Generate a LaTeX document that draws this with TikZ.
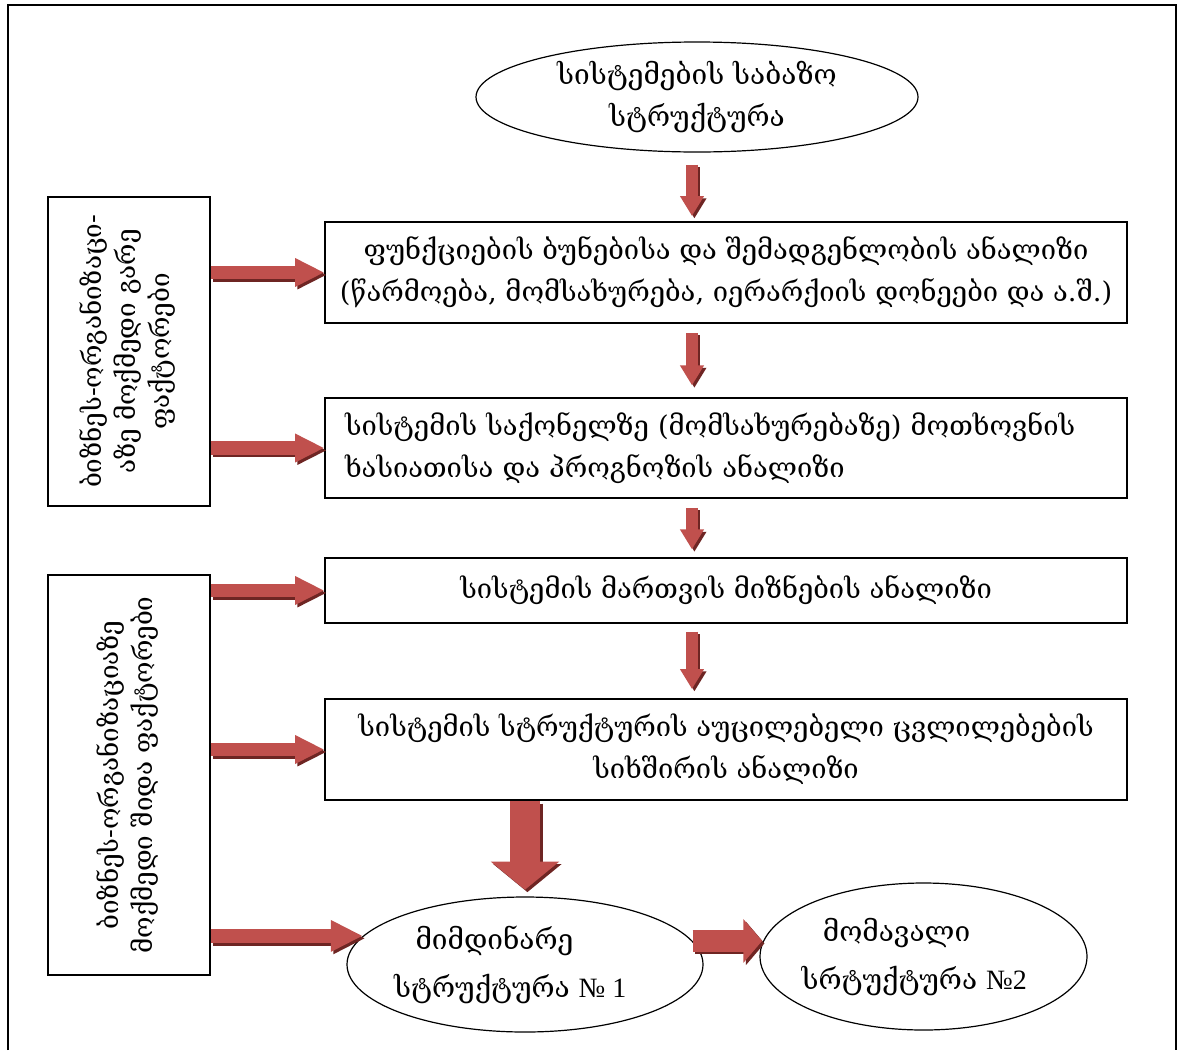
\documentclass[tikz,border=0pt]{standalone}
\usepackage{fontspec}
\setmainfont{DejaVu Serif}
\newfontfamily\tnr{Liberation Serif}
\usetikzlibrary{shapes.geometric,arrows.meta,calc}
\definecolor{arrowred}{HTML}{C0504D}
\definecolor{arrowdark}{HTML}{6E2523}
\newcommand\fs{\fontsize{20.5}{31.5}\selectfont}
\newcommand\fsl{\fontsize{19.5}{25.5}\selectfont}
\newcommand\fse{\fontsize{21}{32}\selectfont}
\newcommand\redarrow[6]{%
  \draw[transform canvas={shift={(1.8pt,-1.8pt)}}, line width=#3, draw=arrowdark, -{Triangle[width=#4,length=#5]}, #6] (#1) -- (#2);
  \draw[line width=#3, draw=arrowred, -{Triangle[width=#4,length=#5]}, #6] (#1) -- (#2);
}
\tikzset{
  box/.style={draw, line width=0.9pt, rectangle, minimum width=601.5pt, inner sep=0pt, align=center, font=\fs},
  sidebox/.style={draw, line width=0.9pt, rectangle, minimum width=121.5pt, inner sep=0pt, align=center, font=\fsl},
  oval/.style={draw, line width=0.9pt, ellipse, inner sep=0pt, align=center, font=\fse},
}
\begin{document}
\begin{tikzpicture}[x=0.75pt,y=-0.75pt]
\useasboundingbox (0,0) rectangle (1184,1050);
\fill[white] (0,0) rectangle (1184,1050);
\draw[line width=0.9pt] (8,1050) -- (8,5) -- (1176,5) -- (1176,1050);

\node[oval, minimum width=331.5pt, minimum height=82.5pt] (E0) at (697,97) {სისტემების საბაზო\\სტრუქტურა};
\node[box, minimum height=75.75pt] (B1) at (726,272.5) {ფუნქციების ბუნებისა და შემადგენლობის ანალიზი\\(წარმოება, მომსახურება, იერარქიის დონეები და ა.შ.)};
\node[box, minimum height=75pt, align=left, text width=571.5pt] (B2) at (726,448) {სისტემის საქონელზე (მომსახურებაზე) მოთხოვნის\\ხასიათისა და პროგნოზის ანალიზი};
\node[box, minimum height=48.75pt] (B3) at (726,590.5) {სისტემის მართვის მიზნების ანალიზი};
\node[box, minimum height=75.75pt] (B4) at (726,749.5) {სისტემის სტრუქტურის აუცილებელი ცვლილებების\\სიხშირის ანალიზი};
\node[sidebox, minimum height=231.75pt] (L1) at (129,351.5) {\rotatebox{90}{\begin{tabular}{@{}c@{}}ბიზნეს-ორგანიზაცი-\\აზე მოქმედი გარე\\ფაქტორები\end{tabular}}};
\node[sidebox, minimum height=300pt] (L2) at (129,775) {\rotatebox{90}{\begin{tabular}{@{}c@{}}ბიზნეს-ორგანიზაციაზე\\მოქმედი შიდა ფაქტორები\end{tabular}}};
\node[oval, minimum width=267pt, minimum height=101.25pt] (E3) at (525,964.5) {\hspace*{-22pt}\begin{tabular}{@{}l@{}}\hspace*{16pt}მიმდინარე\\[4pt]სტრუქტურა {\tnr № 1}\end{tabular}};
\node[oval, minimum width=245.25pt, minimum height=110.25pt] (E4) at (923.5,956.5) {\hspace*{-14pt}\begin{tabular}{@{}l@{}}\hspace*{16pt}მომავალი\\[4pt]სრტუქტურა {\tnr №2}\end{tabular}};

\coordinate (ax) at (692,0);
\redarrow{ax |- E0.south}{ax |- B1.north}{9pt}{17pt}{15pt}{shorten <=9pt, shorten >=4pt}
\redarrow{ax |- B1.south}{ax |- B2.north}{9pt}{17pt}{15pt}{shorten <=7pt, shorten >=9pt}
\redarrow{ax |- B2.south}{ax |- B3.north}{9pt}{17pt}{15pt}{shorten <=7pt, shorten >=6pt}
\redarrow{ax |- B3.south}{ax |- B4.north}{9pt}{17pt}{15pt}{shorten <=6pt, shorten >=7pt}
\redarrow{E3.north |- B4.south}{E3.north}{23pt}{50pt}{21pt}{shorten <=0.5pt, shorten >=5pt}
\redarrow{L1.east |- B1.west}{B1.west}{10pt}{20pt}{22pt}{}
\redarrow{L1.east |- B2.west}{B2.west}{10pt}{20pt}{22pt}{}
\redarrow{L2.east |- B3.west}{B3.west}{10pt}{20pt}{22pt}{}
\redarrow{L2.east |- B4.west}{B4.west}{10pt}{20pt}{22pt}{}
\redarrow{L2.east |- E3.170}{E3.170}{11pt}{22pt}{24pt}{}
\redarrow{E3.8}{E3.8 -| E4.west}{16pt}{32pt}{14pt}{shorten >=-2pt}
\end{tikzpicture}
\end{document}
